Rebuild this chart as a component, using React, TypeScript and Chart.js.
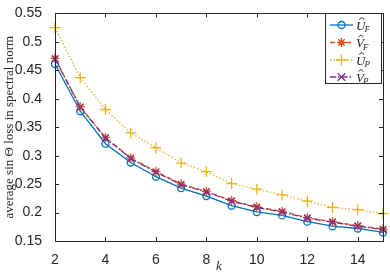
import React, { useEffect, useRef } from "react";
import { Chart, registerables } from "chart.js";

Chart.register(...registerables);

const kValues = [2, 3, 4, 5, 6, 7, 8, 9, 10, 11, 12, 13, 14, 15];
const uF = [0.461, 0.378, 0.321, 0.288, 0.263, 0.243, 0.229, 0.212, 0.201, 0.195, 0.184, 0.176, 0.172, 0.165];
const vF = [0.471, 0.386, 0.332, 0.296, 0.272, 0.25, 0.237, 0.221, 0.21, 0.202, 0.191, 0.184, 0.177, 0.171];
const uP = [0.525, 0.437, 0.381, 0.340, 0.314, 0.287, 0.272, 0.251, 0.241, 0.231, 0.22, 0.209, 0.205, 0.198];
const vP = [0.47, 0.385, 0.331, 0.295, 0.271, 0.249, 0.236, 0.22, 0.209, 0.201, 0.19, 0.183, 0.176, 0.17];
const xTicks = [2, 4, 6, 8, 10, 12, 14];
const yTicks = [0.15, 0.2, 0.25, 0.3, 0.35, 0.4, 0.45, 0.5, 0.55];
const seriesLetters = ["U", "V", "U", "V"];
const seriesSubs = ["F", "F", "P", "P"];

const BLUE = "#0072BD";
const ORANGE = "#D95319";
const YELLOW = "#EDB120";
const PURPLE = "#7E2F8E";
const AXIS = "#262626";

const styles = [
  { color: BLUE, dash: [] as number[], marker: "circle" },
  { color: ORANGE, dash: [5, 3], marker: "star" },
  { color: YELLOW, dash: [1.5, 2], marker: "cross" },
  { color: PURPLE, dash: [6, 2, 1.5, 2], marker: "crossRot" },
];

function drawMarker(ctx: CanvasRenderingContext2D, kind: string, x: number, y: number) {
  ctx.beginPath();
  if (kind === "circle") {
    ctx.arc(x, y, 3.5, 0, Math.PI * 2);
  } else {
    const r = kind === "cross" ? 5.5 : 4.5;
    const d = r * Math.SQRT1_2;
    if (kind === "cross" || kind === "star") {
      ctx.moveTo(x - r, y); ctx.lineTo(x + r, y);
      ctx.moveTo(x, y - r); ctx.lineTo(x, y + r);
    }
    if (kind === "crossRot" || kind === "star") {
      const dd = kind === "star" ? d : r * 0.85;
      ctx.moveTo(x - dd, y - dd); ctx.lineTo(x + dd, y + dd);
      ctx.moveTo(x - dd, y + dd); ctx.lineTo(x + dd, y - dd);
    }
  }
  ctx.stroke();
}

const framePlugin = {
  id: "frameAndLegend",
  afterDraw(chart: any) {
    const ctx: CanvasRenderingContext2D = chart.ctx;
    const { left, right, top, bottom } = chart.chartArea;
    const xs = chart.scales.x;
    const ys = chart.scales.y;
    ctx.save();
    ctx.strokeStyle = AXIS;
    ctx.lineWidth = 1;
    ctx.setLineDash([]);
    ctx.strokeRect(Math.round(left) + 0.5, Math.round(top) + 0.5, Math.round(right - left), Math.round(bottom - top));
    const tl = 4;
    ctx.beginPath();
    xTicks.forEach((v) => {
      const px = Math.round(xs.getPixelForValue(v)) + 0.5;
      ctx.moveTo(px, bottom); ctx.lineTo(px, bottom - tl);
      ctx.moveTo(px, top); ctx.lineTo(px, top + tl);
    });
    yTicks.forEach((v) => {
      const py = Math.round(ys.getPixelForValue(v)) + 0.5;
      ctx.moveTo(left, py); ctx.lineTo(left + tl, py);
      ctx.moveTo(right, py); ctx.lineTo(right - tl, py);
    });
    ctx.stroke();

    // legend
    const bx = 325.5, by = 13.5, bw = 56, bh = 70;
    ctx.fillStyle = "#ffffff";
    ctx.fillRect(bx, by, bw, bh);
    ctx.strokeStyle = AXIS;
    ctx.lineWidth = 1;
    ctx.strokeRect(bx, by, bw, bh);
    const rowY = [25, 42.5, 60, 77];
    styles.forEach((s, i) => {
      const y = rowY[i];
      ctx.strokeStyle = s.color;
      ctx.lineWidth = 1.3;
      ctx.setLineDash(s.dash);
      ctx.beginPath();
      ctx.moveTo(330, y); ctx.lineTo(353, y);
      ctx.stroke();
      ctx.setLineDash([]);
      drawMarker(ctx, s.marker, 341.5, y);
      // label
      ctx.fillStyle = AXIS;
      ctx.font = "italic 13px 'Liberation Serif'";
      ctx.textBaseline = "alphabetic";
      ctx.textAlign = "left";
      const tx = 356;
      ctx.fillText(seriesLetters[i], tx, y + 4.5);
      const w = ctx.measureText(seriesLetters[i]).width;
      ctx.font = "italic 9px 'Liberation Serif'";
      ctx.fillText(seriesSubs[i], tx + w - 1, y + 7);
      // hat
      ctx.strokeStyle = AXIS;
      ctx.lineWidth = 0.9;
      ctx.beginPath();
      const hx = tx + w / 2 + 1;
      ctx.moveTo(hx - 2.5, y - 5.5);
      ctx.lineTo(hx, y - 7.5);
      ctx.lineTo(hx + 2.5, y - 5.5);
      ctx.stroke();
    });
    ctx.restore();
  },
};

export default function App() {
  const ref = useRef<HTMLCanvasElement | null>(null);
  useEffect(() => {
    document.body.style.margin = "0";
    const seriesData = [uF, vF, uP, vP];
    const labels = ["Û_F", "V̂_F", "Û_P", "V̂_P"];
    const chart = new Chart(ref.current as HTMLCanvasElement, {
      type: "line",
      data: {
        datasets: seriesData.map((vals, i) => ({
          label: labels[i],
          data: kValues.map((k, j) => ({ x: k, y: vals[j] })),
          order: 4 - i,
          borderColor: styles[i].color,
          backgroundColor: "transparent",
          borderWidth: 1.3,
          borderDash: styles[i].dash,
          pointStyle: styles[i].marker as any,
          pointRadius: styles[i].marker === "circle" ? 3.5 : styles[i].marker === "cross" ? 5.5 : 4.5,
          pointBorderColor: styles[i].color,
          pointBackgroundColor: "transparent",
          pointBorderWidth: 1.3,
          tension: 0,
          clip: false as any,
        })),
      },
      options: {
        animation: false,
        responsive: false,
        maintainAspectRatio: false,
        layout: { padding: { left: 0, right: 7, top: 9, bottom: 0 } },
        plugins: { legend: { display: false }, tooltip: { enabled: false } },
        scales: {
          x: {
            type: "linear",
            min: 2,
            max: 15,
            grid: { display: false },
            border: { display: false },
            afterBuildTicks: (s: any) => { s.ticks = xTicks.map((v) => ({ value: v })); },
            afterFit: (s: any) => { s.height = 36; },
            ticks: {
              padding: 3,
              color: AXIS,
              font: { family: "'Liberation Sans'", size: 14 },
              maxRotation: 0,
            },
            title: {
              display: true,
              text: "k",
              color: AXIS,
              padding: { top: 0, bottom: 3 },
              font: { family: "'Liberation Serif'", size: 13, style: "italic" },
            },
          },
          y: {
            type: "linear",
            min: 0.15,
            max: 0.55,
            grid: { display: false },
            border: { display: false },
            afterBuildTicks: (s: any) => { s.ticks = yTicks.map((v) => ({ value: v })); },
            afterFit: (s: any) => { s.width = 55; },
            ticks: {
              padding: 5,
              color: AXIS,
              font: { family: "'Liberation Sans'", size: 14 },
              callback: (v: any) => String(Number(Number(v).toFixed(2))),
            },
            title: {
              display: true,
              text: "average sin Θ loss in spectral norm",
              color: AXIS,
              padding: { top: 2, bottom: 0 },
              font: { family: "'Liberation Serif'", size: 13 },
            },
          },
        },
      },
      plugins: [framePlugin],
    });
    return () => chart.destroy();
  }, []);
  return (
    <div style={{ width: 390, height: 277 }}>
      <canvas ref={ref} width={390} height={277} style={{ display: "block" }} />
    </div>
  );
}
